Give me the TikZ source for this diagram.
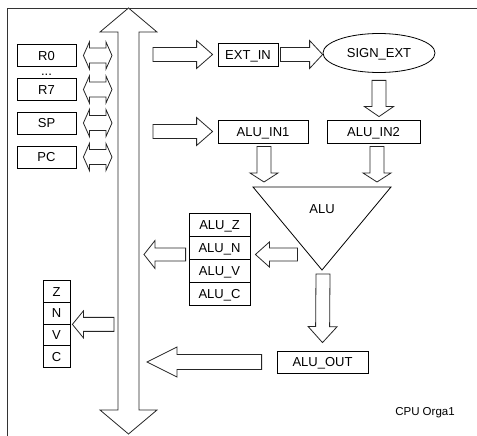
\documentclass[tikz,border=0pt]{standalone}
\usepackage{fontspec}
\setmainfont{Liberation Sans}
\usetikzlibrary{calc,shapes.geometric}

% block arrow from #1 to #2: shaft half width #3, head half width #4, head length #5
\newcommand\blockarrow[5]{%
  \path (#1) coordinate (ba-a) (#2) coordinate (ba-b);
  \path ($(ba-b)!#5!(ba-a)$) coordinate (ba-h);
  \draw[barrow] ($(ba-a)!#3!90:(ba-b)$) -- ($(ba-h)!#3!-90:(ba-a)$)
    -- ($(ba-h)!#4!-90:(ba-a)$) -- (ba-b) -- ($(ba-h)!#4!90:(ba-a)$)
    -- ($(ba-h)!#3!90:(ba-a)$) -- ($(ba-a)!#3!-90:(ba-b)$) -- cycle;}

% double-headed block arrow between #1 and #2
\newcommand\dblockarrow[5]{%
  \path (#1) coordinate (da-a) (#2) coordinate (da-b);
  \path ($(da-a)!#5!(da-b)$) coordinate (da-h1) ($(da-b)!#5!(da-a)$) coordinate (da-h2);
  \draw[barrow] (da-a) -- ($(da-h1)!#4!90:(da-b)$) -- ($(da-h1)!#3!90:(da-b)$)
    -- ($(da-h2)!#3!-90:(da-a)$) -- ($(da-h2)!#4!-90:(da-a)$) -- (da-b)
    -- ($(da-h2)!#4!90:(da-a)$) -- ($(da-h2)!#3!90:(da-a)$)
    -- ($(da-h1)!#3!-90:(da-b)$) -- ($(da-h1)!#4!-90:(da-b)$) -- cycle;}

\tikzset{
  lbl/.style={font=\fontsize{13}{15}\selectfont, text height=9.3pt, text depth=0pt},
  box/.style={lbl, draw=black, line width=0.8pt, fill=white, inner sep=0pt,
    minimum height=23pt},
  reg/.style={box, minimum width=59pt, minimum height=22pt},
  flag/.style={box, minimum width=61pt},
  bit/.style={box, minimum width=27pt, minimum height=21.75pt},
  ell/.style={lbl, ellipse, draw=black, line width=0.8pt, fill=white, inner sep=0pt,
    minimum width=112pt, minimum height=39pt},
  barrow/.style={draw=black!85, line width=0.8pt, fill=white, line join=miter},
  frame/.style={draw=black!80, line width=0.9pt},
}

\begin{document}
\begin{tikzpicture}[x=1pt,y=-1pt]
\useasboundingbox (0,0) rectangle (477,436);

% outer frame
\draw[frame] (7,436) -- (7,8) -- (477,8);

% system bus
\coordinate (busN) at (128.5,8);
\coordinate (busS) at (128.5,434);
\dblockarrow{busN}{busS}{10.5pt}{28.5pt}{24pt}

% register file
\node[reg] (R0) at (46.5,55.5) {R0};
\node[lbl, anchor=base] (regdots) at (46.5,76) {...};
\node[reg] (R7) at (46.5,89.5) {R7};
\node[reg] (SP) at (46.5,123) {SP};
\node[reg] (PC) at (46.5,157) {PC};
\foreach \reg in {R0,R7,SP,PC}
  \dblockarrow{$(\reg.east)+(7,0)$}{$(\reg.east -| busN)+(-16.5,0)$}{7.5pt}{13.5pt}{6pt};

% operand path
\node[box, minimum width=60pt] (extin) at (248,54.5) {EXT\textunderscore IN};
\node[ell] (signext) at (379,53) {SIGN\textunderscore EXT};
\node[box, minimum width=90pt] (aluin1) at (263,131.5) {ALU\textunderscore IN1};
\node[box, minimum width=93pt] (aluin2) at (373.5,131.5) {ALU\textunderscore IN2};

\blockarrow{$(extin.west -| busN)+(24.5,0)$}{$(extin.west)+(-5,0)$}{7pt}{14pt}{16pt}
\blockarrow{$(extin.east)+(2,0)$}{$(signext.west |- extin.east)$}{7pt}{14pt}{13pt}
\blockarrow{$(signext.south)+(0,7.5)$}{$(aluin2.north -| signext.south)+(0,-3)$}{7pt}{14.5pt}{10pt}
\blockarrow{$(aluin1.west -| busN)+(24.5,0)$}{$(aluin1.west)+(-5,0)$}{7pt}{14pt}{16pt}

% ALU
\coordinate (aluTL) at (253,187);
\coordinate (aluTR) at (391,187);
\coordinate (aluB) at (322,270);
\draw[draw=black, line width=0.8pt] (aluTL) -- (aluTR) -- (aluB) -- cycle;
\node[lbl] (alu) at (322,208.5) {ALU};

\blockarrow{$(aluin1.south)+(1,3)$}{$(aluin1.south |- aluTL)+(1,-5)$}{7pt}{14pt}{9pt}
\blockarrow{$(aluin2.south)+(3.5,3)$}{$(aluin2.south |- aluTL)+(3.5,-5)$}{7pt}{14pt}{9pt}

% ALU flags
\node[flag] (aluz) at (219.5,224.5) {ALU\textunderscore Z};
\node[flag] (alun) at (219.5,247.5) {ALU\textunderscore N};
\node[flag] (aluv) at (219.5,270.5) {ALU\textunderscore V};
\node[flag] (aluc) at (219.5,293.5) {ALU\textunderscore C};
\blockarrow{$(alun.east)+(47,7)$}{$(alun.east)+(5,7)$}{6.5pt}{12.5pt}{14pt}
\blockarrow{$(alun.west)+(-3,7)$}{$(alun.west -| busN)+(15.5,7)$}{6.5pt}{14pt}{11pt}

% ALU result
\node[box, minimum width=91pt, minimum height=22pt] (aluout) at (322.5,362) {ALU\textunderscore OUT};
\blockarrow{$(aluB)+(1,4)$}{$(aluout.north)+(0,-8)$}{7pt}{14.5pt}{16pt}
\blockarrow{$(aluout.west)+(-15,0)$}{$(aluout.west -| busN)+(18.5,0)$}{7.5pt}{15pt}{30pt}

% status register
\node[bit] (fz) at (56.5,291.4) {Z};
\node[bit] (fn) at (56.5,313.1) {N};
\node[bit] (fv) at (56.5,334.9) {V};
\node[bit] (fc) at (56.5,356.6) {C};
\blockarrow{$(fn.south east -| busN)+(-14.5,0)$}{$(fn.south east)+(2,0)$}{7pt}{13.5pt}{11pt}

\node[font=\fontsize{11.5}{13}\selectfont] (title) at (425,413) {CPU Orga1};
\end{tikzpicture}
\end{document}
